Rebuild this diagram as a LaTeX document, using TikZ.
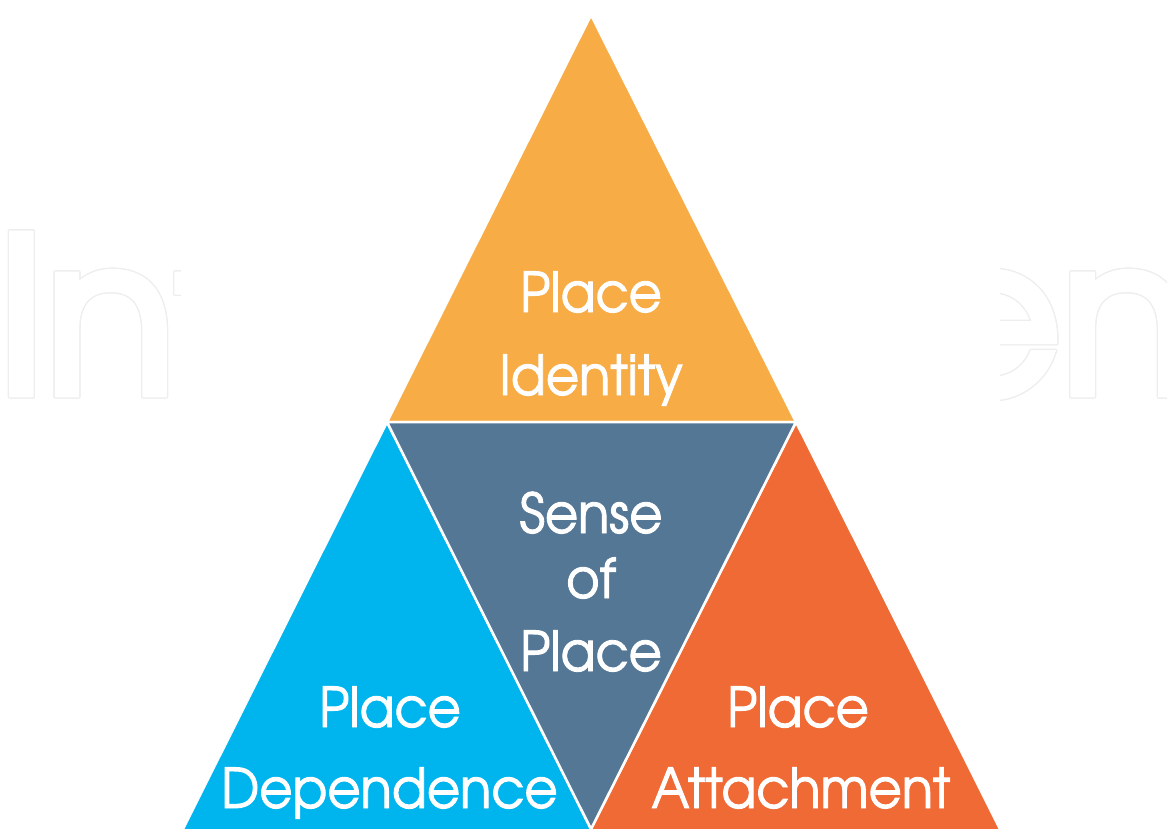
\documentclass[tikz,border=0pt]{standalone}
\usepackage{fontspec}
\usepackage{contour}
\newfontfamily\advfont[FakeStretch=0.93,FakeBold=1.6]{TeX Gyre Adventor}
\newfontfamily\wmfont[FakeBold=4]{TeX Gyre Adventor}
\definecolor{toporange}{HTML}{F8AC45}
\definecolor{slate}{HTML}{557796}
\definecolor{skyblue}{HTML}{00B5EE}
\definecolor{redorange}{HTML}{F06A35}
\definecolor{wmgray}{HTML}{EEEEEE}
\contourlength{1.3pt}
\begin{document}
\begin{tikzpicture}[x=1pt,y=-1pt,
  tri/.style={draw=white,line width=2.5pt,line join=miter},
  lbl/.style={text=white,font=\advfont\fontsize{55}{66}\selectfont,anchor=base,inner sep=0pt},
  wm/.style={font=\wmfont\fontsize{214}{240}\selectfont,inner sep=0pt}]
\useasboundingbox (0,0) rectangle (1167,829);
% watermark
\node[wm,anchor=base west] (wmL) at (-3,393) {\contour{wmgray}{\textcolor{white}{Int}}};
\node[wm,anchor=base east] (wmR) at (1192,393) {\contour{wmgray}{\textcolor{white}{en}}};
\fill[white] (181,0) rectangle (1000,829);
% corners
\coordinate (apex) at (591,15);
\coordinate (ml) at (387,422);
\coordinate (mr) at (796,422);
\coordinate (bl) at (180,835);
\coordinate (bm) at (591,829);
\coordinate (br) at (1003,835);
\coordinate (bml) at (594,835);
\coordinate (bmr) at (588,835);
% triangles
\filldraw[tri,fill=toporange] (apex) -- (ml) -- (mr) -- cycle;
\filldraw[tri,fill=skyblue] (ml) -- (bl) -- (bml) -- cycle;
\filldraw[tri,fill=redorange] (mr) -- (bmr) -- (br) -- cycle;
\filldraw[tri,fill=slate] (ml) -- (mr) -- (bm) -- cycle;
% labels
\node[lbl] (t1) at (591,312) {Place};
\node[lbl] (t2) at (591,395) {Identity};
\node[lbl] (m1) at (591,533) {Sense};
\node[lbl] (m2) at (591,598) {of};
\node[lbl] (m3) at (591,671) {Place};
\node[lbl] (l1) at (390,727) {Place};
\node[lbl] (l2) at (389.5,808) {Dependence};
\node[lbl] (r1) at (798,727) {Place};
\node[lbl] (r2) at (801,808) {Attachment};
\end{tikzpicture}
\end{document}
